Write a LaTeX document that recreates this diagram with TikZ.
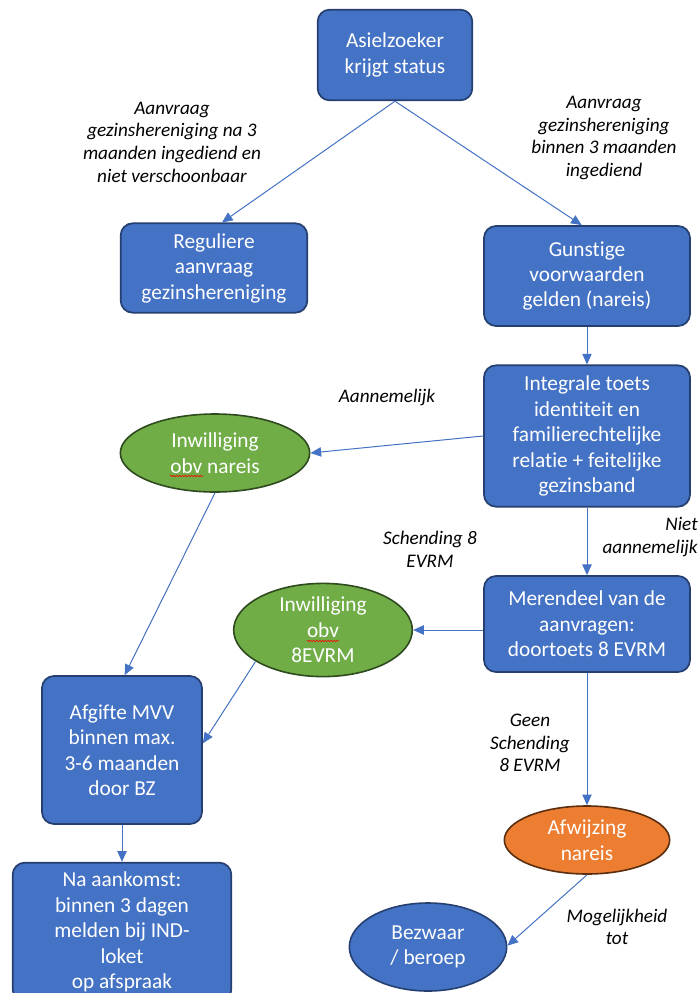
\documentclass[tikz,border=0pt]{standalone}
\usepackage{fontspec}
\setmainfont{Carlito}[Ligatures={NoCommon}]
\usetikzlibrary{arrows.meta,shapes.geometric,decorations.pathmorphing,calc}
\definecolor{boxblue}{HTML}{4472C4}
\definecolor{boxedge}{HTML}{253F70}
\definecolor{boxgreen}{HTML}{70AD47}
\definecolor{greenedge}{HTML}{2E4A1E}
\definecolor{boxorange}{HTML}{ED7D31}
\definecolor{orangeedge}{HTML}{5A2E0E}
\definecolor{linkblue}{HTML}{4472C4}
\tikzset{
  bluebox/.style={draw=boxedge, line width=1.3pt, fill=boxblue, rounded corners=9pt,
    text=white, align=center, font=\fontsize{16}{19.1}\selectfont, inner sep=0pt},
  ovalnode/.style={ellipse, line width=1.2pt, text=white, align=center,
    font=\fontsize{16}{19.1}\selectfont, inner sep=0pt},
  greenoval/.style={ovalnode, draw=greenedge, fill=boxgreen},
  orangeoval/.style={ovalnode, draw=orangeedge, fill=boxorange},
  blueoval/.style={ovalnode, draw=boxedge, fill=boxblue},
  lbl/.style={align=center, font=\fontsize{14.4}{17}\selectfont\itshape, inner sep=0pt},
  link/.style={draw=linkblue, line width=0.75pt, -{Triangle[length=8pt,width=7pt]}},
  squiggle/.style={draw=red, line width=0.45pt, decorate,
    decoration={snake, amplitude=0.5pt, segment length=2.2pt}}
}
\begin{document}
\begin{tikzpicture}[x=0.75pt, y=-0.75pt]
\useasboundingbox (0,0) rectangle (698,993);
\begin{scope}
\clip (0,0) rectangle (698,993);
% nodes
\node[bluebox, minimum width=116pt, minimum height=68pt] (A) at (395,55) {Asielzoeker\\krijgt status};
\node[bluebox, minimum width=140pt, minimum height=67pt] (B) at (214,268) {Reguliere\\aanvraag\\gezinshereniging};
\node[bluebox, minimum width=154.5pt, minimum height=75pt] (C) at (587,276) {Gunstige\\voorwaarden\\gelden (nareis)};
\node[bluebox, minimum width=154.5pt, minimum height=106pt] (D) at (587,436) {Integrale toets\\identiteit en\\familierechtelijke\\relatie + feitelijke\\gezinsband};
\node[bluebox, minimum width=154.5pt, minimum height=72pt] (F) at (587,624) {Merendeel van de\\aanvragen:\\doortoets 8 EVRM};
\node[bluebox, minimum width=120pt, minimum height=111pt] (H) at (122,750) {Afgifte MVV\\binnen max.\\3-6 maanden\\door BZ};
\node[bluebox, minimum width=164pt, minimum height=104pt] (I) at (122,932) {Na aankomst:\\binnen 3 dagen\\melden bij IND-\\loket\\op afspraak};
\node[greenoval, minimum width=142pt, minimum height=58.5pt] (E) at (215,453) {Inwilliging\\obv nareis};
\node[greenoval, minimum width=134pt, minimum height=60pt] (G) at (323,630) {Inwilliging\\obv\\8EVRM};
\node[orangeoval, minimum width=124pt, minimum height=51pt] (J) at (587,840) {Afwijzing\\nareis};
\node[blueoval, minimum width=118pt, minimum height=66pt] (K) at (428,947) {Bezwaar\\/ beroep};
% labels
\node[lbl] (L1) at (172,142) {Aanvraag\\gezinshereniging na 3\\maanden ingediend en\\niet verschoonbaar};
\node[lbl] (L2) at (604,138) {Aanvraag\\gezinshereniging\\binnen 3 maanden\\ingediend};
\node[lbl] (L3) at (387,397) {Aannemelijk};
\node[lbl, align=right, anchor=east] (L4) at (698,537) {Niet\\aannemelijk};
\node[lbl] (L5) at (430,549) {Schending 8\\EVRM};
\node[lbl] (L6) at (530,743) {Geen\\Schending\\8 EVRM};
\node[lbl] (L7) at (617,927) {Mogelijkheid\\tot};
% connectors
\draw[link] (A.south) -- ([xshift=6pt]B.north);
\draw[link] (A.south) -- ([xshift=-4pt]C.north);
\draw[link] (C.south) -- (D.north);
\draw[link] (D.west) -- (E.east);
\draw[link] (D.south) -- (F.north);
\draw[link] (G.east -| F.west) -- (G.east);
\draw[link] (E.south) -- ([xshift=2pt]H.north);
\draw[link] (G.205) -- ([yshift=5pt]H.east);
\draw[link] (H.south) -- (I.north);
\draw[link] (F.south) -- (J.north);
\draw[link] (J.south) -- ([yshift=1pt]K.east);
% spell-check squiggles
\draw[squiggle] (170,476) -- (203,476);
\draw[squiggle] (307,641) -- (339,641);
\end{scope}
\end{tikzpicture}
\end{document}
